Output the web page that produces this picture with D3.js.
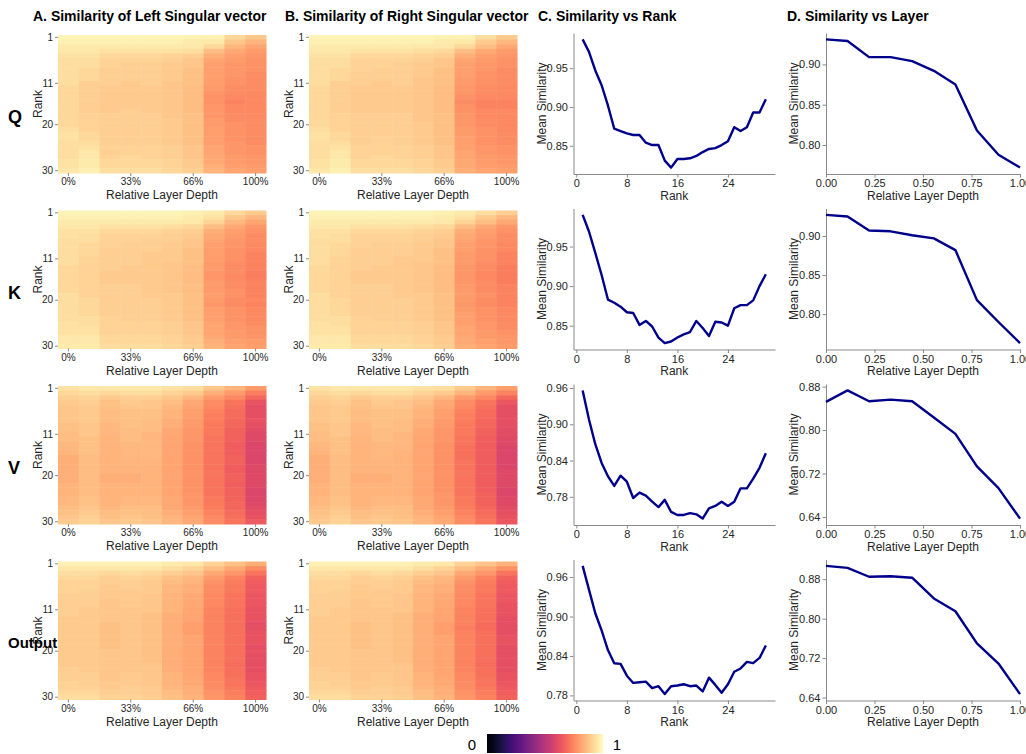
<!DOCTYPE html>
<html>
<head>
<meta charset="utf-8">
<script src="https://cdn.jsdelivr.net/npm/d3@7"></script>
<style>
  body { margin: 0; background: #fff; }
  svg text { font-family: "Liberation Sans", Arial, sans-serif; }
</style>
</head>
<body>
<script>
// ---- data -------------------------------------------------------------
var projections = ["Q", "K", "V", "Output"];
var panelTitles = ["A. Similarity of Left Singular vector",
                   "B. Similarity of Right Singular vector",
                   "C. Similarity vs Rank",
                   "D. Similarity vs Layer"];
var ranks = [1,2,3,4,5,6,7,8,9,10,11,12,13,14,15,16,17,18,19,20,
             21,22,23,24,25,26,27,28,29,30];
var layers = [0,1,2,3,4,5,6,7,8,9];
var layerDepth = [0, 0.111, 0.222, 0.333, 0.444, 0.556, 0.667, 0.778, 0.889, 1];
var heatYTicks = [1, 11, 20, 30];
var heatXTicks = [0, 3, 6, 9];
var heatXLabels = ["0%", "33%", "66%", "100%"];
var rankXTicks = [0, 8, 16, 24];
var layerXTicks = [0, 0.25, 0.5, 0.75, 1];

// mean similarity per rank (panel C)
var rankSimQ = [0.987,0.971,0.947,0.928,0.902,0.872,0.869,0.866,0.864,0.864,
                0.854,0.851,0.851,0.831,0.822,0.833,0.833,0.834,0.837,0.842,
                0.846,0.847,0.851,0.856,0.874,0.869,0.874,0.893,0.893,0.910];
var rankSimK = [0.990,0.969,0.942,0.914,0.883,0.879,0.874,0.867,0.866,0.851,
                0.856,0.849,0.835,0.828,0.830,0.835,0.839,0.842,0.856,0.847,
                0.837,0.855,0.854,0.850,0.872,0.876,0.876,0.882,0.900,0.915];
var rankSimV = [0.956,0.908,0.867,0.836,0.814,0.798,0.815,0.805,0.778,0.787,
                0.782,0.772,0.763,0.775,0.755,0.750,0.750,0.753,0.751,0.744,
                0.761,0.765,0.772,0.765,0.772,0.794,0.794,0.810,0.828,0.852];
var rankSimO = [0.977,0.941,0.905,0.879,0.849,0.829,0.828,0.810,0.799,0.800,
                0.801,0.791,0.794,0.782,0.794,0.795,0.797,0.794,0.795,0.786,
                0.807,0.796,0.784,0.797,0.816,0.821,0.831,0.829,0.837,0.856];
var rankTicksQK = [0.85, 0.90, 0.95];
var rankTicksVO = [0.78, 0.84, 0.90, 0.96];

// mean similarity per layer (panel D)
var layerSimQ = [0.931,0.929,0.909,0.909,0.904,0.892,0.875,0.818,0.788,0.772];
var layerSimK = [0.927,0.925,0.907,0.906,0.901,0.897,0.882,0.818,0.790,0.763];
var layerSimV = [0.852,0.873,0.853,0.856,0.853,0.823,0.793,0.733,0.693,0.637];
var layerSimO = [0.907,0.903,0.885,0.886,0.883,0.841,0.815,0.750,0.709,0.647];
var layerTicksQK = [0.80, 0.85, 0.90];
var layerTicksVO = [0.64, 0.72, 0.80, 0.88];

// heatmaps: one string per rank, similarity (%) for each of the 10 layers
var leftQ = [
  "98 98 98 98 98 98 97 97 92 88", "97 97 97 97 97 97 96 95 88 84",
  "96 96 96 96 96 96 95 92 85 81", "95 95 94 94 94 94 93 86 82 79",
  "94 94 92 92 92 91 90 83 80 78", "93 93 91 91 91 90 88 81 79 77",
  "93 93 91 90 90 89 88 80 78 77", "93 92 90 90 90 89 87 80 78 77",
  "93 92 90 90 90 89 87 80 78 76", "93 92 90 90 90 89 87 80 77 76",
  "93 90 90 89 90 88 87 80 77 76", "92 90 89 89 89 88 86 79 76 76",
  "92 90 89 89 89 88 86 78 76 75", "92 90 89 89 89 88 86 77 75 75",
  "92 90 89 89 89 88 86 77 74 75", "92 90 89 89 89 88 86 78 75 75",
  "92 90 89 90 89 88 86 78 75 75", "92 91 90 90 90 88 87 78 76 75",
  "92 91 90 90 90 89 87 79 76 76", "92 91 90 90 90 89 87 79 77 76",
  "93 91 90 90 90 89 87 80 77 76", "94 92 90 90 90 89 87 80 77 76",
  "94 92 90 90 90 89 87 80 77 76", "93 93 90 90 90 89 87 80 78 76",
  "93 94 91 91 91 90 88 81 78 77", "93 95 90 91 91 90 88 81 78 77",
  "93 95 91 92 91 90 88 82 79 78", "94 96 92 92 92 91 89 82 79 78",
  "94 96 92 92 92 91 89 83 80 79", "95 97 93 93 93 92 90 84 81 80"];
var rightQ = [
  "98 98 98 98 98 98 97 97 93 89", "97 97 97 97 97 97 96 95 89 85",
  "96 96 96 96 96 95 95 92 86 82", "95 95 94 94 94 93 92 86 82 79",
  "94 94 92 92 92 91 90 83 80 78", "93 93 91 91 91 90 88 81 79 77",
  "93 93 91 91 90 89 88 80 78 77", "93 92 91 90 90 89 87 80 78 76",
  "93 92 90 90 90 89 87 80 77 76", "93 92 90 90 90 88 87 79 77 76",
  "93 90 90 89 90 88 87 79 77 76", "92 90 89 89 89 88 86 78 76 75",
  "92 90 89 89 89 88 86 78 76 75", "92 90 89 89 89 88 86 77 75 75",
  "92 90 89 89 89 88 86 76 74 74", "92 90 89 89 89 88 86 77 74 74",
  "92 90 89 89 89 88 86 77 75 75", "92 91 90 90 90 88 87 78 75 75",
  "92 91 90 90 90 88 87 78 76 75", "92 91 90 90 90 89 87 78 76 75",
  "93 91 90 90 90 89 87 79 77 75", "94 92 90 90 90 89 87 79 77 76",
  "94 92 90 91 90 89 87 80 77 76", "93 93 90 91 90 89 87 80 77 76",
  "93 94 91 91 91 90 88 80 78 77", "93 95 91 91 91 90 88 81 78 77",
  "93 95 91 92 91 90 88 81 79 78", "94 96 92 92 92 91 89 82 79 78",
  "94 96 92 92 92 91 89 82 80 79", "95 97 93 93 93 92 90 83 81 80"];
var leftK = [
  "98 98 98 98 98 98 97 96 92 89", "97 97 97 97 97 97 96 94 88 85",
  "96 96 96 96 96 96 95 91 85 81", "95 95 94 94 94 93 92 86 82 78",
  "94 94 92 92 92 91 90 83 80 77", "94 93 91 91 91 90 89 82 79 76",
  "93 93 91 91 90 90 88 81 78 76", "93 92 91 90 90 89 88 80 78 75",
  "93 92 90 90 90 89 87 80 77 75", "93 92 90 90 89 89 87 80 77 74",
  "93 91 90 90 89 89 87 80 77 74", "93 91 90 90 89 88 87 79 76 74",
  "92 91 90 89 89 88 86 79 76 74", "92 91 89 89 89 88 86 78 76 73",
  "92 91 89 89 89 88 86 78 75 73", "92 91 89 89 89 88 86 79 76 74",
  "92 91 90 90 89 88 87 79 76 74", "92 91 90 90 89 88 86 79 77 74",
  "93 91 90 90 89 89 87 80 77 74", "93 92 90 90 90 89 87 79 76 75",
  "93 92 90 90 90 89 87 78 76 74", "93 92 90 90 90 89 87 80 77 75",
  "93 92 90 90 90 89 87 80 77 75", "93 93 91 90 90 89 87 80 77 75",
  "94 93 91 91 91 90 88 81 78 76", "94 94 91 91 91 90 88 81 78 77",
  "94 94 91 91 91 90 88 81 79 77", "95 95 92 92 92 91 89 82 79 78",
  "95 95 92 92 92 91 89 83 80 79", "96 96 93 93 93 92 90 84 81 80"];
var rightK = [
  "98 98 98 98 98 98 97 96 93 90", "97 97 97 97 97 97 96 94 89 85",
  "96 96 96 96 96 96 95 91 86 82", "95 95 94 94 94 93 92 86 82 78",
  "94 94 92 92 92 91 90 83 80 77", "94 93 91 91 91 90 89 82 79 76",
  "93 93 91 91 91 90 88 81 78 76", "93 92 91 90 90 89 88 80 78 75",
  "93 92 90 90 90 89 87 80 77 75", "93 92 90 90 90 89 87 79 77 74",
  "93 91 90 90 89 89 87 79 77 74", "93 91 90 90 89 88 87 79 76 74",
  "92 91 90 89 89 88 86 78 76 73", "92 91 89 89 89 88 86 78 75 73",
  "92 91 89 89 89 88 86 78 75 73", "92 91 89 89 89 88 86 78 76 73",
  "92 91 90 90 89 88 86 79 76 74", "92 91 90 90 89 88 86 79 76 74",
  "93 91 90 90 89 89 87 79 77 74", "93 92 90 90 90 89 87 79 76 74",
  "93 92 90 90 90 89 87 78 76 74", "93 92 90 90 90 89 87 79 77 75",
  "93 92 90 90 90 89 87 80 77 75", "93 93 91 90 90 89 87 80 77 75",
  "94 93 91 91 91 90 88 80 78 76", "94 94 91 91 91 90 88 81 78 76",
  "94 94 91 91 91 90 88 81 79 77", "95 95 92 92 92 91 89 82 79 78",
  "95 95 92 92 92 91 89 82 80 78", "96 96 93 93 93 92 90 83 81 79"];
var leftV = [
  "94 95 95 95 95 94 93 88 84 79", "92 93 92 93 93 91 89 83 79 73",
  "90 91 89 90 90 88 85 79 75 68", "89 90 87 89 88 86 82 76 71 63",
  "88 89 87 88 88 85 81 75 70 62", "88 89 86 87 87 84 80 74 69 62",
  "88 89 86 87 87 84 80 73 69 62", "88 89 86 87 86 83 79 73 68 63",
  "87 88 85 87 86 83 79 72 68 62", "87 88 85 86 86 82 78 72 67 61",
  "86 88 85 86 85 82 78 72 67 60", "86 87 84 86 85 81 78 71 67 60",
  "85 87 84 85 85 81 77 71 66 59", "85 87 84 85 85 81 77 71 66 59",
  "84 87 84 85 85 81 77 71 66 59", "83 86 84 85 85 81 77 71 67 59",
  "83 86 84 84 84 81 77 71 67 59", "83 86 84 84 84 81 77 71 66 60",
  "83 86 84 84 84 81 77 71 66 60", "83 86 83 83 84 81 77 71 67 60",
  "83 86 83 83 84 81 77 71 67 60", "84 86 84 84 84 81 77 71 66 60",
  "84 86 84 84 84 81 77 71 67 59", "84 86 84 84 84 81 78 71 67 59",
  "85 87 84 85 85 82 78 72 67 59", "85 87 84 85 85 82 78 72 68 60",
  "86 88 85 86 86 82 79 73 68 61", "87 89 86 87 86 83 80 74 69 62",
  "88 90 87 88 87 84 81 75 70 63", "89 91 88 89 88 85 82 76 71 65"];
var rightV = [
  "94 95 95 95 95 94 93 89 84 80", "92 93 92 93 93 91 89 84 79 74",
  "90 91 89 90 90 88 85 79 75 68", "89 90 87 89 88 86 82 76 71 64",
  "88 89 87 88 88 85 81 75 70 62", "88 89 86 87 87 84 80 74 69 62",
  "88 89 86 87 87 84 80 73 69 62", "88 89 86 87 86 83 79 73 68 62",
  "87 88 85 87 86 83 79 72 68 62", "87 88 85 86 86 82 78 72 67 61",
  "86 88 85 86 85 82 78 72 67 61", "86 87 84 86 85 81 78 71 66 60",
  "85 87 84 85 85 81 77 71 66 60", "85 87 84 85 85 81 77 70 66 59",
  "84 87 84 85 84 81 77 70 66 59", "83 86 84 85 84 81 77 70 66 59",
  "83 86 84 84 84 81 77 71 66 59", "83 86 84 84 84 81 77 71 66 59",
  "83 86 84 84 84 81 77 71 66 60", "83 86 83 83 84 81 77 71 66 60",
  "83 86 83 83 84 81 77 71 66 60", "84 86 84 84 84 81 77 71 66 60",
  "84 86 84 84 84 81 77 71 66 59", "84 86 84 84 84 81 78 71 67 59",
  "85 87 84 85 85 82 78 72 67 60", "85 87 84 85 85 82 78 72 67 60",
  "86 88 85 86 86 82 79 73 68 61", "87 89 86 87 86 83 80 74 69 62",
  "88 90 87 88 87 84 81 75 70 63", "89 91 88 89 88 85 82 76 71 64"];
var leftO = [
  "97 97 97 97 97 96 95 91 87 83", "95 95 95 95 95 93 91 86 82 76",
  "93 93 92 93 92 90 88 82 78 71", "92 92 90 91 90 87 85 79 74 67",
  "91 91 90 90 89 86 84 77 73 66", "91 91 89 90 89 85 83 76 72 65",
  "91 90 89 89 89 85 83 76 72 65", "90 90 89 89 88 84 82 75 71 64",
  "90 90 88 89 88 84 82 75 71 64", "90 90 88 89 88 84 82 75 71 64",
  "90 89 88 88 88 84 81 74 70 63", "90 89 88 88 87 83 81 74 70 63",
  "89 89 88 88 87 83 81 74 70 63", "89 89 87 88 87 83 80 74 70 62",
  "89 89 87 88 87 83 80 74 70 62", "89 89 87 88 87 83 80 74 70 63",
  "89 89 87 88 87 83 81 74 70 63", "89 89 87 88 87 83 81 74 70 63",
  "89 89 87 88 87 83 81 74 70 62", "89 89 88 88 87 83 81 74 70 63",
  "89 89 88 88 87 83 81 74 70 62", "89 89 88 88 87 83 81 74 70 62",
  "89 89 88 88 88 83 81 74 69 62", "90 89 88 88 88 83 81 74 70 62",
  "90 90 88 89 88 84 81 75 70 63", "90 90 88 89 88 84 82 75 71 63",
  "91 90 89 89 88 84 82 76 71 64", "91 91 89 90 89 85 83 76 72 65",
  "92 92 90 90 89 86 83 77 73 66", "93 93 91 91 90 87 84 78 74 67"];
var rightO = [
  "97 97 97 97 97 96 95 91 88 84", "95 95 95 95 95 93 91 86 82 77",
  "93 93 92 93 92 90 88 82 78 71", "92 92 90 91 90 87 85 79 74 67",
  "91 91 90 90 89 86 84 77 73 66", "91 91 89 90 89 85 83 76 72 65",
  "91 90 89 89 89 85 83 76 72 65", "90 90 89 89 88 84 82 75 71 64",
  "90 90 88 89 88 84 82 75 71 64", "90 90 88 89 88 84 82 75 71 63",
  "90 89 88 88 88 84 81 74 70 63", "90 89 88 88 87 83 81 74 70 63",
  "89 89 88 88 87 83 81 74 70 62", "89 89 87 88 87 83 80 74 69 62",
  "89 89 87 88 87 83 80 73 69 62", "89 89 87 88 87 83 80 74 70 62",
  "89 89 87 88 87 83 81 74 70 63", "89 89 87 88 87 83 81 74 70 63",
  "89 89 87 88 87 83 81 74 70 62", "89 89 88 88 87 83 81 74 70 62",
  "89 89 88 88 87 83 81 74 70 62", "89 89 88 88 87 83 81 74 70 62",
  "89 89 88 88 88 83 81 74 69 62", "90 89 88 88 88 83 81 74 70 62",
  "90 90 88 89 88 84 81 75 70 63", "90 90 88 89 88 84 82 75 71 63",
  "91 90 89 89 88 84 82 76 71 64", "91 91 89 90 89 85 83 76 72 65",
  "92 92 90 90 89 86 83 77 73 66", "93 93 91 91 90 87 84 78 74 67"];

var heatLeft = [leftQ, leftK, leftV, leftO];
var heatRight = [rightQ, rightK, rightV, rightO];
var rankSim = [rankSimQ, rankSimK, rankSimV, rankSimO];
var layerSim = [layerSimQ, layerSimK, layerSimV, layerSimO];
var rankTicks = [rankTicksQK, rankTicksQK, rankTicksVO, rankTicksVO];
var layerTicks = [layerTicksQK, layerTicksQK, layerTicksVO, layerTicksVO];

// ---- layout -----------------------------------------------------------
var width = 1026, height = 754;
var rowTop = [33, 208.5, 384, 559.5];
var plotH = 141;
var colA = [58, 266], colB = [309, 517], colC = [573.5, 775], colD = [826, 1020];
var titleX = [33, 285, 538, 787];
var lineColor = "#00008b";
var spineColor = "#8a8a8a";
var textColor = "#262626";

var svg = d3.select("body").append("svg")
    .attr("width", width)
    .attr("height", height);

var color = d3.scaleSequential(d3.interpolateMagma).domain([0, 1]);

// panel titles
svg.selectAll(".panel-title")
    .data(panelTitles)
    .enter()
    .append("text")
    .attr("class", "panel-title")
    .attr("x", function(d, i) { return titleX[i]; })
    .attr("y", 21)
    .attr("font-size", 14)
    .attr("font-weight", "bold")
    .attr("fill", "#000")
    .text(function(d) { return d; });

function styleAxis(g, showDomain) {
    g.selectAll("text")
        .attr("fill", textColor)
        .style("font-family", "'Liberation Sans', Arial, sans-serif");
    g.selectAll("line").attr("stroke", spineColor);
    g.select(".domain").attr("stroke", spineColor);
    if (!showDomain) g.select(".domain").remove();
}

function drawHeatmap(rows, top, xr) {
    var values = rows.map(function(s) {
        return s.trim().split(/\s+/).map(function(v) { return +v / 100; });
    });
    var cells = [];
    values.forEach(function(row, ri) {
        row.forEach(function(v, li) {
            cells.push({rank: ranks[ri], layer: layers[li], value: v});
        });
    });
    var x = d3.scaleBand().domain(layers).range(xr);
    var y = d3.scaleBand().domain(ranks).range([top + 2, top + 140]);
    var g = svg.append("g");
    g.selectAll("rect")
        .data(cells)
        .enter()
        .append("rect")
        .attr("x", function(d) { return x(d.layer); })
        .attr("y", function(d) { return y(d.rank); })
        .attr("width", x.bandwidth() + 0.5)
        .attr("height", y.bandwidth() + 0.5)
        .attr("fill", function(d) { return color(d.value); });

    var ax = svg.append("g")
        .attr("transform", "translate(0," + (top + 140) + ")")
        .call(d3.axisBottom(x).tickValues(heatXTicks).tickSize(3)
            .tickPadding(2)
            .tickFormat(function(d) { return heatXLabels[heatXTicks.indexOf(d)]; }));
    ax.selectAll("text").attr("font-size", 10);
    styleAxis(ax, false);

    var ay = svg.append("g")
        .attr("transform", "translate(" + xr[0] + ",0)")
        .call(d3.axisLeft(y).tickValues(heatYTicks).tickSize(3).tickPadding(2));
    ay.selectAll("text").attr("font-size", 10);
    styleAxis(ay, false);

    svg.append("text")
        .attr("x", (xr[0] + xr[1]) / 2)
        .attr("y", top + 166)
        .attr("text-anchor", "middle")
        .attr("font-size", 12)
        .attr("fill", textColor)
        .text("Relative Layer Depth");
    svg.append("text")
        .attr("transform", "translate(" + (xr[0] - 16) + "," + (top + 71) + ") rotate(-90)")
        .attr("text-anchor", "middle")
        .attr("font-size", 12)
        .attr("fill", textColor)
        .text("Rank");
}

function drawLine(xs, ys, x, yTicksV, xTicksV, xFmt, top, xr, xLabel) {
    var ext = d3.extent(ys);
    var pad = (ext[1] - ext[0]) * 0.05;
    var y = d3.scaleLinear().domain([ext[0] - pad, ext[1] + pad])
        .range([top + plotH, top]);
    var g = svg.append("g");

    var ax = g.append("g")
        .attr("transform", "translate(0," + (top + plotH) + ")")
        .call(d3.axisBottom(x).tickValues(xTicksV).tickSize(3.5)
            .tickPadding(2).tickSizeOuter(0).tickFormat(xFmt));
    ax.selectAll("text").attr("font-size", 11);
    styleAxis(ax, true);

    var ay = g.append("g")
        .attr("transform", "translate(" + xr[0] + ",0)")
        .call(d3.axisLeft(y).tickValues(yTicksV).tickSize(3.5)
            .tickPadding(2).tickSizeOuter(0).tickFormat(d3.format(".2f")));
    ay.selectAll("text").attr("font-size", 11);
    styleAxis(ay, true);

    var line = d3.line()
        .x(function(d, i) { return x(xs[i]); })
        .y(function(d) { return y(d); });
    g.append("path")
        .datum(ys)
        .attr("d", line)
        .attr("fill", "none")
        .attr("stroke", lineColor)
        .attr("stroke-width", 2.4)
        .attr("stroke-linejoin", "round");

    g.append("text")
        .attr("x", (xr[0] + xr[1]) / 2)
        .attr("y", top + plotH + 25.5)
        .attr("text-anchor", "middle")
        .attr("font-size", 12)
        .attr("fill", textColor)
        .text(xLabel);
    g.append("text")
        .attr("transform", "translate(" + (xr[0] - 28) + "," + (top + plotH / 2) + ") rotate(-90)")
        .attr("text-anchor", "middle")
        .attr("font-size", 12)
        .attr("fill", textColor)
        .text("Mean Similarity");
}

projections.forEach(function(p, i) {
    var top = rowTop[i];
    drawHeatmap(heatLeft[i], top, colA);
    drawHeatmap(heatRight[i], top, colB);

    var xRank = d3.scaleLinear().domain([-0.45, 31.45]).range(colC);
    drawLine(ranks, rankSim[i], xRank, rankTicks[i], rankXTicks,
        d3.format("d"), top, colC, "Rank");

    var xLayer = d3.scaleLinear().domain([0, 1]).range(colD);
    drawLine(layerDepth, layerSim[i], xLayer, layerTicks[i], layerXTicks,
        d3.format(".2f"), top, colD, "Relative Layer Depth");
});

// row labels, drawn last so they sit on top
svg.selectAll(".row-label")
    .data(projections)
    .enter()
    .append("text")
    .attr("class", "row-label")
    .attr("x", 8)
    .attr("y", function(d, i) { return rowTop[i] + (d.length > 1 ? 88.5 : 90); })
    .attr("font-size", function(d) { return d.length > 1 ? 15 : 18; })
    .attr("font-weight", "bold")
    .attr("fill", "#000")
    .text(function(d) { return d; });

// colour bar
var defs = svg.append("defs");
var grad = defs.append("linearGradient").attr("id", "magma-grad");
d3.range(0, 1.001, 0.05).forEach(function(t) {
    grad.append("stop")
        .attr("offset", (t * 100) + "%")
        .attr("stop-color", color(t));
});
var cbScale = d3.scaleLinear().domain([0, 1]).range([487, 603]);
svg.append("rect")
    .attr("x", cbScale(0))
    .attr("y", 734)
    .attr("width", cbScale(1) - cbScale(0))
    .attr("height", 19)
    .attr("fill", "url(#magma-grad)");
svg.selectAll(".cb-label")
    .data([0, 1])
    .enter()
    .append("text")
    .attr("class", "cb-label")
    .attr("x", function(d) { return d === 0 ? cbScale(0) - 15 : cbScale(1) + 14; })
    .attr("y", 749.5)
    .attr("text-anchor", "middle")
    .attr("font-size", 15)
    .attr("fill", "#000")
    .text(function(d) { return d; });
</script>
</body>
</html>
